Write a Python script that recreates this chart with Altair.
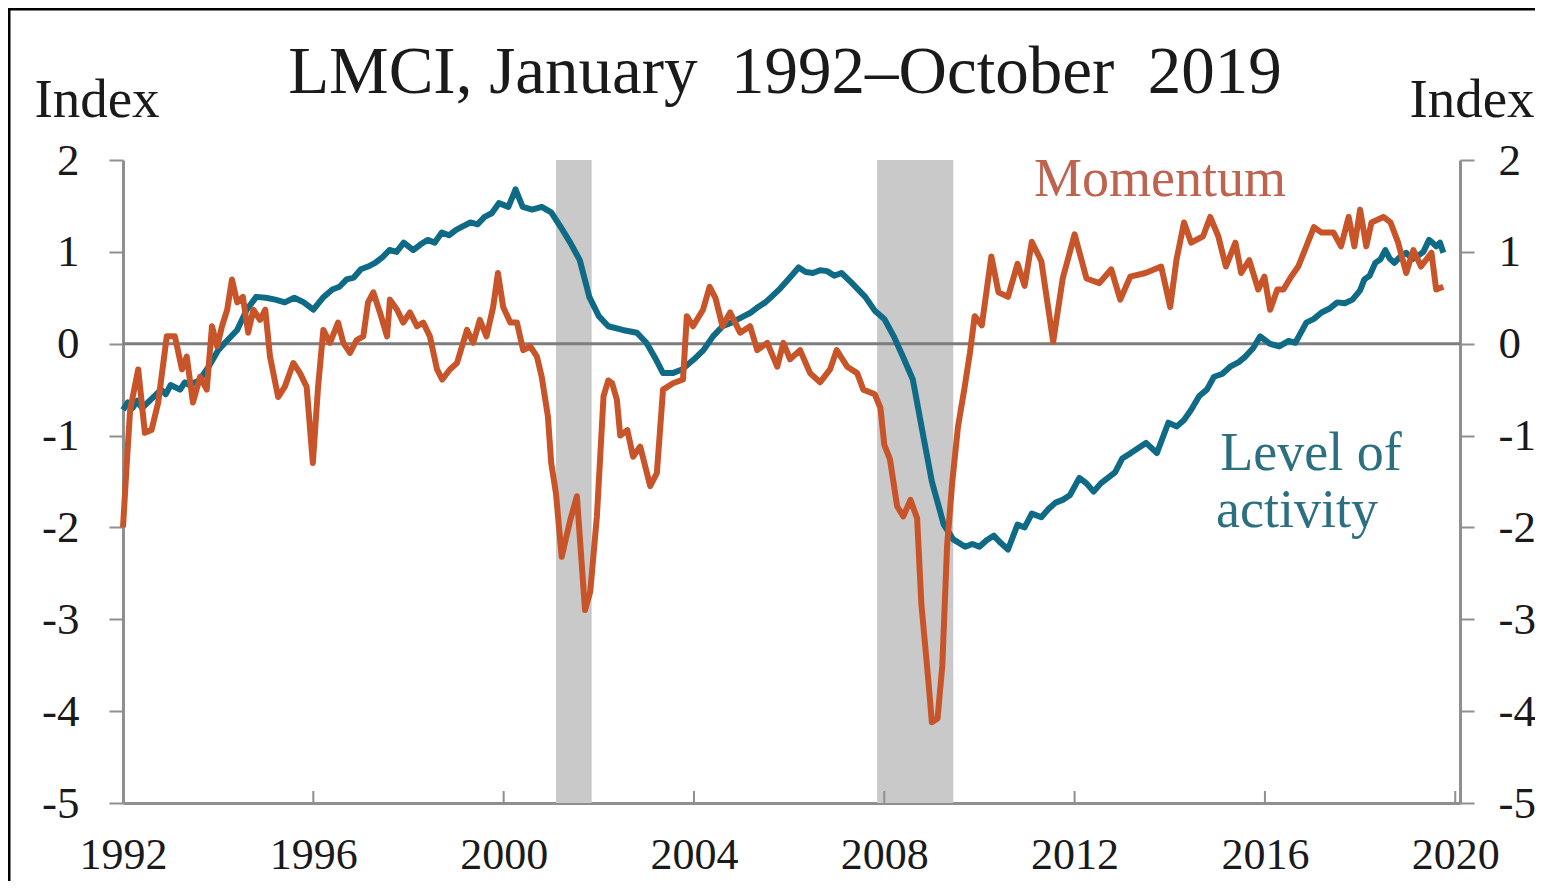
import altair as alt
import pandas as pd

# ---------------- data ----------------
mom_year = [1992.00, 1992.08, 1992.15, 1992.32, 1992.46, 1992.60, 1992.74, 1992.92, 1993.09, 1993.24,
            1993.34, 1993.47, 1993.62, 1993.76, 1993.87, 1993.98, 1994.08, 1994.19, 1994.29, 1994.40,
            1994.52, 1994.63, 1994.74, 1994.88, 1994.99, 1995.09, 1995.26, 1995.40, 1995.58, 1995.72,
            1995.86, 1995.99, 1996.10, 1996.21, 1996.35, 1996.52, 1996.63, 1996.77, 1996.91, 1997.05,
            1997.15, 1997.26, 1997.40, 1997.55, 1997.61, 1997.76, 1997.89, 1998.03, 1998.18, 1998.31,
            1998.45, 1998.60, 1998.71, 1998.87, 1999.02, 1999.23, 1999.36, 1999.50, 1999.64, 1999.78,
            1999.88, 1999.99, 2000.14, 2000.28, 2000.41, 2000.56, 2000.70, 2000.80, 2000.93, 2001.00,
            2001.10, 2001.22, 2001.40, 2001.54, 2001.71, 2001.82, 2001.96, 2002.10, 2002.20, 2002.28,
            2002.38, 2002.45, 2002.60, 2002.72, 2002.87, 2003.08, 2003.22, 2003.35, 2003.56, 2003.77,
            2003.85, 2003.98, 2004.19, 2004.33, 2004.45, 2004.60, 2004.76, 2004.97, 2005.18, 2005.33,
            2005.54, 2005.75, 2005.88, 2006.02, 2006.23, 2006.44, 2006.65, 2006.86, 2007.00, 2007.22,
            2007.43, 2007.56, 2007.80, 2007.92, 2008.00, 2008.12, 2008.27, 2008.40, 2008.55, 2008.69,
            2008.78, 2008.92, 2009.00, 2009.12, 2009.22, 2009.32, 2009.43, 2009.55, 2009.68, 2009.80,
            2009.90, 2010.05, 2010.25, 2010.40, 2010.60, 2010.80, 2010.95, 2011.10, 2011.30, 2011.55,
            2011.75, 2012.00, 2012.25, 2012.52, 2012.77, 2012.96, 2013.17, 2013.49, 2013.82, 2014.01,
            2014.14, 2014.30, 2014.45, 2014.70, 2014.85, 2015.02, 2015.18, 2015.38, 2015.50, 2015.67,
            2015.86, 2015.99, 2016.11, 2016.26, 2016.39, 2016.55, 2016.70, 2016.87, 2017.03, 2017.19,
            2017.44, 2017.60, 2017.76, 2017.88, 2018.00, 2018.13, 2018.24, 2018.49, 2018.64, 2018.80,
            2018.97, 2019.12, 2019.28, 2019.50, 2019.60, 2019.75]
mom_val = [-2.00, -1.30, -0.72, -0.28, -0.97, -0.94, -0.64, 0.08, 0.08, -0.28,
           -0.14, -0.64, -0.36, -0.50, 0.19, -0.03, 0.19, 0.37, 0.70, 0.45,
           0.51, 0.12, 0.37, 0.26, 0.37, -0.14, -0.58, -0.47, -0.21, -0.32,
           -0.47, -1.30, -0.47, 0.15, 0.01, 0.23, 0.01, -0.10, 0.04, 0.08,
           0.45, 0.56, 0.34, 0.08, 0.48, 0.37, 0.23, 0.34, 0.19, 0.23,
           0.08, -0.28, -0.39, -0.28, -0.21, 0.15, 0.01, 0.26, 0.08, 0.40,
           0.77, 0.40, 0.23, 0.23, -0.07, -0.03, -0.14, -0.36, -0.79, -1.30,
           -1.63, -2.32, -1.92, -1.66, -2.90, -2.70, -1.88, -0.57, -0.40, -0.43,
           -0.61, -1.00, -0.94, -1.23, -1.12, -1.55, -1.41, -0.50, -0.43, -0.39,
           0.30, 0.19, 0.37, 0.62, 0.50, 0.19, 0.34, 0.12, 0.19, -0.07,
           0.01, -0.25, 0.01, -0.17, -0.07, -0.32, -0.42, -0.28, -0.07, -0.25,
           -0.32, -0.50, -0.55, -0.70, -1.10, -1.26, -1.77, -1.88, -1.70, -1.90,
           -2.84, -3.63, -4.12, -4.08, -3.50, -2.20, -1.50, -0.90, -0.50, -0.10,
           0.30, 0.20, 0.95, 0.56, 0.51, 0.87, 0.63, 1.11, 0.90, 0.02,
           0.71, 1.19, 0.71, 0.66, 0.81, 0.48, 0.73, 0.77, 0.84, 0.40,
           0.91, 1.32, 1.10, 1.17, 1.38, 1.17, 0.84, 1.10, 0.77, 0.91,
           0.59, 0.73, 0.37, 0.59, 0.59, 0.73, 0.84, 1.06, 1.27, 1.21,
           1.21, 1.06, 1.38, 1.06, 1.46, 1.06, 1.32, 1.38, 1.32, 1.10,
           0.77, 1.02, 0.84, 0.99, 0.59, 0.62]

lvl_year = [1992.0, 1992.1, 1992.2, 1992.3, 1992.4, 1992.6, 1992.8, 1992.9, 1993.0, 1993.2,
            1993.3, 1993.4, 1993.6, 1993.8, 1994.0, 1994.2, 1994.4, 1994.6, 1994.8, 1995.0,
            1995.2, 1995.4, 1995.6, 1995.8, 1996.0, 1996.2, 1996.4, 1996.55, 1996.7, 1996.85,
            1997.0, 1997.15, 1997.3, 1997.45, 1997.6, 1997.75, 1997.9, 1998.1, 1998.25, 1998.4,
            1998.55, 1998.7, 1998.85, 1999.0, 1999.15, 1999.3, 1999.45, 1999.6, 1999.75, 1999.9,
            2000.1, 2000.25, 2000.4, 2000.6, 2000.8, 2001.0, 2001.2, 2001.4, 2001.6, 2001.8,
            2002.0, 2002.2, 2002.5, 2002.8, 2003.0, 2003.2, 2003.35, 2003.55, 2003.75, 2004.0,
            2004.2, 2004.4, 2004.6, 2004.75, 2004.9, 2005.05, 2005.2, 2005.35, 2005.5, 2005.65,
            2005.81, 2006.0, 2006.2, 2006.35, 2006.5, 2006.65, 2006.8, 2006.95, 2007.1, 2007.3,
            2007.6, 2007.8, 2008.0, 2008.2, 2008.4, 2008.6, 2008.8, 2009.0, 2009.25, 2009.45,
            2009.7, 2009.85, 2010.0, 2010.15, 2010.3, 2010.45, 2010.6, 2010.8, 2010.95, 2011.1,
            2011.3, 2011.45, 2011.6, 2011.75, 2011.9, 2012.1, 2012.25, 2012.4, 2012.55, 2012.7,
            2012.85, 2013.0, 2013.15, 2013.3, 2013.5, 2013.73, 2013.97, 2014.15, 2014.3, 2014.45,
            2014.62, 2014.78, 2014.93, 2015.1, 2015.27, 2015.45, 2015.59, 2015.75, 2015.9, 2016.1,
            2016.3, 2016.5, 2016.64, 2016.87, 2017.03, 2017.19, 2017.35, 2017.52, 2017.68, 2017.84,
            2018.0, 2018.09, 2018.2, 2018.32, 2018.43, 2018.53, 2018.62, 2018.72, 2018.85, 2018.97,
            2019.1, 2019.2, 2019.33, 2019.45, 2019.52, 2019.6, 2019.68, 2019.75]
lvl_val = [-0.72, -0.64, -0.70, -0.62, -0.70, -0.60, -0.50, -0.55, -0.45, -0.50,
           -0.42, -0.45, -0.40, -0.25, -0.07, 0.04, 0.15, 0.37, 0.51, 0.50,
           0.48, 0.45, 0.50, 0.45, 0.37, 0.50, 0.59, 0.62, 0.70, 0.72,
           0.81, 0.84, 0.88, 0.94, 1.02, 1.00, 1.10, 1.02, 1.08, 1.13,
           1.10, 1.21, 1.18, 1.24, 1.28, 1.32, 1.30, 1.38, 1.42, 1.53,
           1.49, 1.68, 1.49, 1.46, 1.49, 1.43, 1.27, 1.10, 0.91, 0.51,
           0.30, 0.19, 0.15, 0.12, 0.01, -0.17, -0.32, -0.32, -0.28, -0.17,
           -0.07, 0.08, 0.19, 0.22, 0.26, 0.30, 0.34, 0.40, 0.45, 0.52,
           0.60, 0.71, 0.83, 0.78, 0.77, 0.80, 0.79, 0.74, 0.77, 0.67,
           0.51, 0.36, 0.27, 0.08, -0.15, -0.39, -0.95, -1.50, -1.97, -2.13,
           -2.21, -2.18, -2.21, -2.14, -2.09, -2.17, -2.24, -1.97, -2.00, -1.85,
           -1.89, -1.80, -1.73, -1.70, -1.65, -1.46, -1.52, -1.61, -1.52, -1.46,
           -1.40, -1.25, -1.20, -1.15, -1.08, -1.19, -0.86, -0.90, -0.83, -0.72,
           -0.57, -0.50, -0.36, -0.33, -0.25, -0.20, -0.14, -0.05, 0.08, 0.00,
           -0.03, 0.03, 0.01, 0.23, 0.27, 0.34, 0.38, 0.45, 0.44, 0.48,
           0.58, 0.70, 0.74, 0.88, 0.92, 1.02, 0.93, 0.88, 0.95, 0.99,
           0.92, 0.95, 1.00, 1.13, 1.10, 1.06, 1.10, 0.99]

rec_start = [2001.10, 2007.85]
rec_end = [2001.85, 2009.45]

x_ticks = [1992, 1996, 2000, 2004, 2008, 2012, 2016, 2020]
y_ticks = [2, 1, 0, -1, -2, -3, -4, -5]

title_text = ["LMCI, January\u00a0 1992\u2013October\u00a0 2019"]
axis_title = ["Index"]
mom_label = ["Momentum"]
lvl_label = ["Level of", "activity"]

# ---------------- styling ----------------
W, H = 1337, 643
FONT = "Liberation Serif"
GREY = "#8f8f8f"
ORANGE = "#c8552a"
TEAL = "#0f6a86"

xs = alt.Scale(domain=[1992, 2020.1], nice=False, zero=False)
ys = alt.Scale(domain=[-5, 2], nice=False, zero=False)

x_axis = alt.Axis(
    orient="bottom", values=x_ticks, labelExpr="'' + datum.value", title=None, grid=False,
    domainColor=GREY, domainWidth=3, ticks=False, labelFont=FONT, labelFontSize=44,
    labelColor="#1a1a1a", labelPadding=30, labelOverlap=False, labelFlush=False)

mom = pd.DataFrame({"year": mom_year, "value": mom_val})
lvl = pd.DataFrame({"year": lvl_year, "value": lvl_val})
rec = pd.DataFrame({"start": rec_start, "end": rec_end})

rec_layer = alt.Chart(rec).mark_rect(color="#c9c9c9").encode(
    x=alt.X("start:Q", scale=xs, axis=x_axis),
    x2="end:Q",
    y=alt.value(0),
    y2=alt.value(H),
)

zero_layer = alt.Chart(pd.DataFrame({"v": [0]})).mark_rule(color="#7d7d7d", strokeWidth=3).encode(
    y=alt.Y("v:Q", scale=ys, axis=alt.Axis(
        orient="right", values=y_ticks, labelExpr="'' + datum.value", title=None, grid=False,
        domainColor=GREY, domainWidth=3, tickColor=GREY, tickWidth=2, tickSize=14,
        labelFont=FONT, labelFontSize=45, labelColor="#1a1a1a", labelPadding=24,
        labelAlign="left", labelOverlap=False)),
)

xtick_layer = alt.Chart(pd.DataFrame({"t": x_ticks})).mark_rule(color=GREY, strokeWidth=2).encode(
    x=alt.X("t:Q", scale=xs, axis=x_axis),
    y=alt.value(H),
    y2=alt.value(H - 12),
)

lvl_layer = alt.Chart(lvl).mark_line(color=TEAL, strokeWidth=6, strokeJoin="round").encode(
    x=alt.X("year:Q", scale=xs, axis=x_axis),
    y=alt.Y("value:Q", scale=ys, axis=alt.Axis(
        orient="left", values=y_ticks, labelExpr="'' + datum.value", title=None, grid=False,
        domainColor=GREY, domainWidth=3, tickColor=GREY, tickWidth=2, tickSize=14,
        labelFont=FONT, labelFontSize=45, labelColor="#1a1a1a", labelPadding=30,
        labelOverlap=False)),
)

mom_layer = alt.Chart(mom).mark_line(color=ORANGE, strokeWidth=6, strokeJoin="round").encode(
    x=alt.X("year:Q", scale=xs, axis=x_axis),
    y=alt.Y("value:Q", scale=ys, axis=None),
)


def text_layer(txt, x, y, size, color, align="center"):
    return alt.Chart(pd.DataFrame({"t": [txt]})).mark_text(
        font=FONT, fontSize=size, color=color, align=align, baseline="alphabetic"
    ).encode(text="t:N", x=alt.value(x), y=alt.value(y))


texts = [
    text_layer(title_text[0], 662, -67, 67, "#1a1a1a"),
    text_layer(axis_title[0], -26, -43, 55, "#1a1a1a"),
    text_layer(axis_title[0], 1349, -43, 55, "#1a1a1a"),
    text_layer(mom_label[0], 1037, 36, 54, "#bd6350"),
    text_layer(lvl_label[0], 1188, 310, 54, "#2c6f80"),
    text_layer(lvl_label[1], 1174, 367, 54, "#2c6f80"),
]

frame = alt.Chart(pd.DataFrame({"f": [1]})).mark_rect(
    filled=False, stroke="#000000", strokeWidth=3
).encode(x=alt.value(-114), x2=alt.value(W + 300), y=alt.value(-151), y2=alt.value(H + 300))

chart = alt.layer(
    rec_layer, zero_layer, xtick_layer, lvl_layer, mom_layer, *texts, frame
).resolve_scale(y="independent").properties(
    width=W, height=H,
    autosize=alt.AutoSizeParams(type="none"),
    padding={"left": 115, "top": 152, "right": 75, "bottom": 78},
).configure_view(stroke="transparent")

chart.save("out.html", embed_options={"renderer": "svg", "actions": False})
